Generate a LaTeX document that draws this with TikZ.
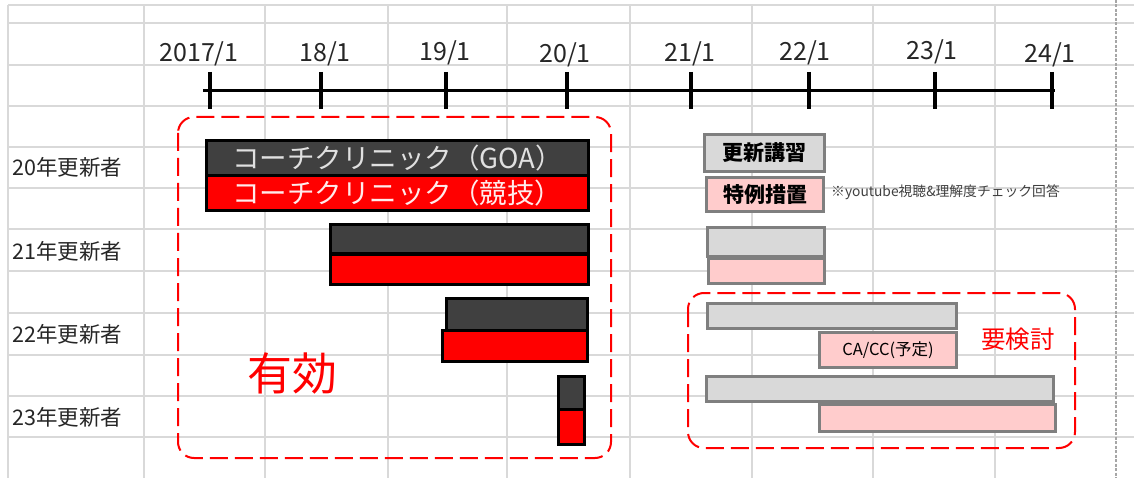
\documentclass[tikz,border=0pt]{standalone}
\usepackage{fontspec}
\setmainfont{Noto Sans CJK JP}
\definecolor{gridc}{HTML}{D9D9D9}
\definecolor{darkbar}{HTML}{404040}
\definecolor{graybox}{HTML}{D9D9D9}
\definecolor{grayedge}{HTML}{7F7F7F}
\definecolor{pinkbox}{HTML}{FFCCCC}
\definecolor{notec}{HTML}{404040}
\definecolor{redc}{HTML}{FF0000}
\definecolor{pagebrk}{HTML}{A6A6A6}
\definecolor{bartext}{HTML}{E0E0E0}
\begin{document}
\begin{tikzpicture}[x=1pt,y=-1pt,
  gridline/.style={gridc,line width=2pt},
  barbox/.style={draw=black,line width=3pt,inner sep=0pt,outer sep=0pt,anchor=north west},
  darkb/.style={barbox,fill=darkbar},
  redb/.style={barbox,fill=redc},
  planbox/.style={draw=grayedge,line width=3pt,inner sep=0pt,outer sep=0pt,anchor=north west},
  grayb/.style={planbox,fill=graybox},
  pinkb/.style={planbox,fill=pinkbox},
  zone/.style={draw=redc,line width=2pt,dash pattern=on 18pt off 7pt,rounded corners=16pt},
  yearlbl/.style={anchor=base,font=\fontsize{25}{25}\selectfont,text=black!85,inner sep=0pt},
  rowlbl/.style={anchor=west,font=\fontsize{21.5}{22}\selectfont,text=black!85,inner sep=0pt},
  tickline/.style={line width=4pt,black},
]
\useasboundingbox (0,0) rectangle (1134,478);
\fill[white] (0,0) rectangle (1134,478);
% grid
\foreach \yy in {5,23,65,106,147,188,229,271,313,355,396,437}
  \draw[gridline] (8,\yy) -- (1134,\yy);
\foreach \xx in {8,144,265,388,507,630,752,873,995}
  \draw[gridline] (\xx,5) -- (\xx,478);
\draw[pagebrk,line width=2pt,dash pattern=on 3pt off 1.5pt] (1116,0) -- (1116,478);

% timeline
\coordinate (a0) at (203,91);
\coordinate (a1) at (1055,91);
\coordinate (t17) at (210,91);
\coordinate (t18) at (321,91);
\coordinate (t19) at (446,91);
\coordinate (t20) at (567,91);
\coordinate (t21) at (691,91);
\coordinate (t22) at (809,91);
\coordinate (t23) at (935,91);
\coordinate (t24) at (1052,91);
\draw[line width=3pt] (a0) -- (a1);
\foreach \t in {t17,t18,t19,t20,t21,t22,t23,t24}
  \draw[tickline] (\t) ++(0,-19) -- ++(0,37);
\node[yearlbl] (l17) at (199,62) {2017/1};
\node[yearlbl] (l18) at (325,62) {18/1};
\node[yearlbl] (l19) at (445,61) {19/1};
\node[yearlbl] (l20) at (565,62.5) {20/1};
\node[yearlbl] (l21) at (690,62) {21/1};
\node[yearlbl] (l22) at (805,61) {22/1};
\node[yearlbl] (l23) at (932,59.5) {23/1};
\node[yearlbl] (l24) at (1050,63) {24/1};

% row labels
\node[rowlbl] (y20) at (12,167) {20年更新者};
\node[rowlbl] (y21) at (12,251) {21年更新者};
\node[rowlbl] (y22) at (12,334) {22年更新者};
\node[rowlbl] (y23) at (12,417) {23年更新者};

% valid zone
\draw[zone] (178,117) rectangle (611,458);
\node[text=redc,font=\fontsize{45}{45}\selectfont,inner sep=0pt] (yuko) at (292,373) {有効};

% left bars
\node[darkb,minimum width=381.5pt,minimum height=35pt] (d20) at (206.5,140.5) {};
\node[redb,minimum width=381.5pt,minimum height=35pt] (r20) at (206.5,175.5) {};
\node[anchor=west,inner sep=0pt,text=bartext,font=\fontsize{27.5}{28}\selectfont] (d20t) at (232,158) {コーチクリニック（GOA）};
\node[anchor=west,inner sep=0pt,text=white!92!red,font=\fontsize{27.5}{28}\selectfont] (r20t) at (232,193.5) {コーチクリニック（競技）};
\node[darkb,minimum width=257.5pt,minimum height=29.5pt] (d21) at (330.5,224.5) {};
\node[redb,minimum width=257.5pt,minimum height=30pt] (r21) at (330.5,254) {};
\node[darkb,minimum width=141.5pt,minimum height=31.5pt] (d22) at (446,298.5) {};
\node[redb,minimum width=145pt,minimum height=31.5pt] (r22) at (442.5,330) {};
\node[darkb,minimum width=26pt,minimum height=33pt] (d23) at (558.5,376) {};
\node[redb,minimum width=26pt,minimum height=35pt] (r23) at (558.5,409) {};

% right side
\node[grayb,minimum width=120pt,minimum height=37pt,font=\fontsize{21}{21}\selectfont\bfseries] (k20) at (704.5,134.5) {更新講習};
\node[pinkb,minimum width=117pt,minimum height=34pt,font=\fontsize{21}{21}\selectfont\bfseries] (p20) at (706.5,177.5) {特例措置};
\node[anchor=west,inner sep=0pt,text=notec,font=\fontsize{13.8}{14}\selectfont] (note) at (831,192) {※youtube視聴\&理解度チェック回答};
\node[grayb,minimum width=117pt,minimum height=28pt] (k21) at (707.5,228) {};
\node[pinkb,minimum width=116pt,minimum height=25pt] (p21) at (708.5,258.5) {};

\draw[zone] (688,293) rectangle (1075,448);
\node[text=redc,font=\fontsize{24.5}{25}\selectfont,inner sep=0pt] (yoken) at (1018,339) {要検討};
\node[grayb,minimum width=249pt,minimum height=25.5pt] (k22) at (707.5,303) {};
\node[pinkb,minimum width=137pt,minimum height=35pt,font=\fontsize{16.5}{17}\selectfont] (p22) at (819.5,332.5) {CA/CC(予定)};
\node[grayb,minimum width=347pt,minimum height=24.5pt] (k23) at (706.5,376.5) {};
\node[pinkb,minimum width=236pt,minimum height=27pt] (p23) at (819.5,404.5) {};
\end{tikzpicture}
\end{document}
